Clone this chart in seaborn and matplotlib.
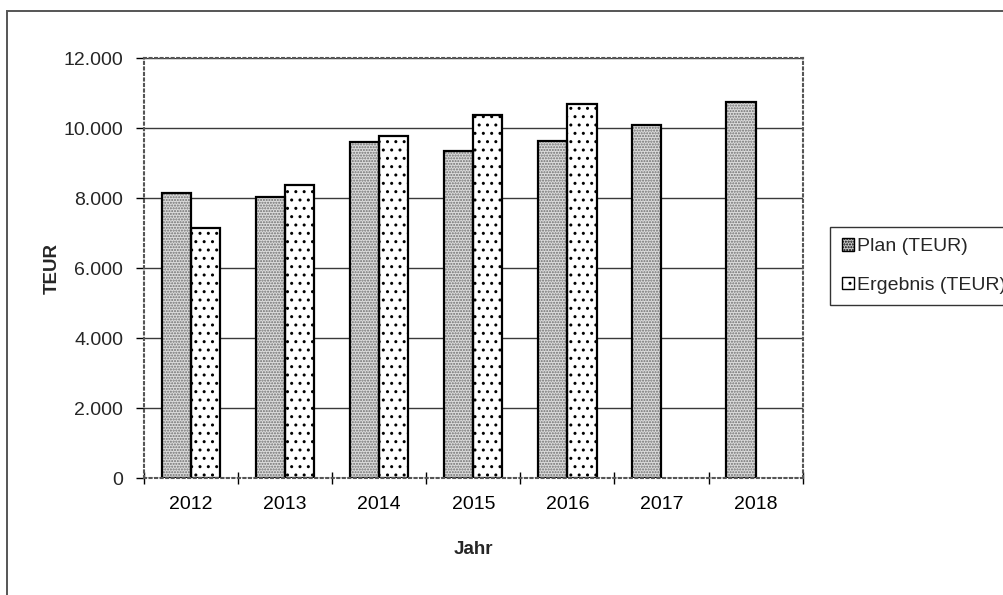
import matplotlib
matplotlib.use("Agg")
import matplotlib.pyplot as plt
import matplotlib.patches as mpatches
from matplotlib.ticker import FuncFormatter, FixedLocator
import numpy as np
import pandas as pd
import seaborn as sns

jahre = ['2012', '2013', '2014', '2015', '2016', '2017', '2018']
plan = [8150, 8040, 9590, 9330, 9620, 10100, 10730]
ergebnis = [7150, 8380, 9760, 10360, 10700, np.nan, np.nan]
serien = ['Plan (TEUR)', 'Ergebnis (TEUR)']

df = pd.DataFrame({'Jahr': jahre * 2,
                   'Wert': plan + ergebnis,
                   'Serie': [serien[0]] * len(jahre) + [serien[1]] * len(jahre)})

sns.set_theme(style="white")
plt.rcParams['font.family'] = ['Liberation Sans', 'DejaVu Sans']
plt.rcParams['hatch.linewidth'] = 1.0

fig = plt.figure(figsize=(10.04, 5.95), dpi=100)
ax = fig.add_axes([0.1434, 0.1966, 0.6560, 0.7059])

sns.barplot(data=df, x='Jahr', y='Wert', hue='Serie', order=jahre, hue_order=serien,
            width=0.62, ax=ax, legend=False, edgecolor='black', linewidth=1.6,
            palette=['#dcdcdc', 'white'])

# Plan: hellgrau mit feinem grauem Punktraster, schwarzer Rand darüber
plan_stil = dict(facecolor='#dcdcdc', hatch='......', edgecolor='#6e6e6e')
erg_stil = dict(facecolor='white', hatch='..', edgecolor='black')
for bar in ax.containers[0]:
    bar.set(**plan_stil)
    bar.set_linewidth(0)
    ax.add_patch(mpatches.Rectangle(bar.get_xy(), bar.get_width(), bar.get_height(),
                                    fill=False, edgecolor='black', linewidth=1.6, zorder=bar.get_zorder() + 0.1))
for bar in ax.containers[1]:
    bar.set(**erg_stil)

ax.set_ylim(0, 12000)
ax.set_xlim(-0.5, len(jahre) - 0.5)
ax.set_yticks(range(0, 12001, 2000))
ax.yaxis.set_major_formatter(FuncFormatter(lambda v, p: f"{int(v):,}".replace(',', '.')))
ax.yaxis.grid(True, color='#3a3a3a', linewidth=1.0)
ax.set_axisbelow(True)

ax.xaxis.set_minor_locator(FixedLocator(np.arange(-0.5, len(jahre), 1.0)))
ax.tick_params(axis='x', which='major', length=0, pad=13, labelsize=14, colors='black')
ax.tick_params(axis='x', which='minor', length=8, direction='inout', width=1, color='black', bottom=True)
ax.tick_params(axis='y', which='major', length=6, direction='out', width=1, color='black', left=True,
               labelsize=14, pad=9)

for s in ax.spines.values():
    s.set_linestyle(':')
    s.set_color('#555555')
    s.set_linewidth(1.5)

ax.set_xlabel('Jahr', fontsize=13.5, fontweight='bold', labelpad=20)
ax.set_ylabel('TEUR', fontsize=13.5, fontweight='bold', labelpad=2)

handles = [mpatches.Patch(facecolor='#c8c8c8', hatch='......', edgecolor='black', linewidth=1),
           mpatches.Patch(facecolor='white', hatch='..', edgecolor='black', linewidth=1)]
leg = fig.legend(handles, serien, loc='upper left', bbox_to_anchor=(0.827, 0.619),
                 fontsize=14, frameon=True, fancybox=False, edgecolor='black',
                 handlelength=0.6, handleheight=0.6, handletextpad=0.15,
                 labelspacing=1.1, borderpad=0.6, borderaxespad=0)
leg.get_frame().set_linewidth(1.0)

# äußerer Rahmen (rechts und unten abgeschnitten)
fig.patches.append(mpatches.Rectangle((0.007, -0.02), 1.1, 0.9815 + 0.02, transform=fig.transFigure,
                                      fill=False, edgecolor='#555555', linewidth=1.4))

fig.savefig('out.png', dpi=100)
